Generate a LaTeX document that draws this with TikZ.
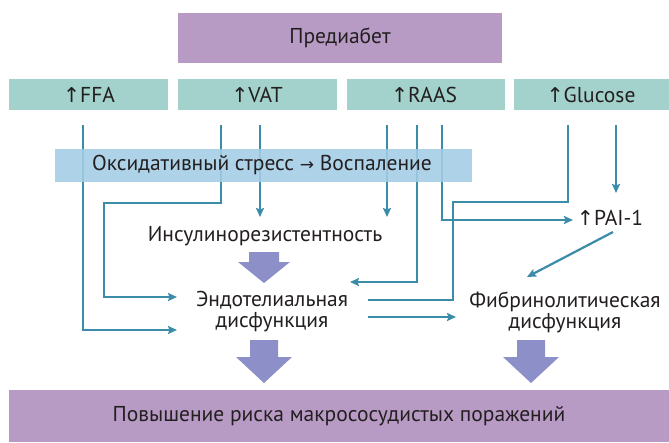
\documentclass[tikz,border=0pt]{standalone}
\usepackage{fontspec}
\setmainfont{PT Sans}
\newfontfamily\arr{DejaVu Sans}
\usetikzlibrary{arrows.meta}
\definecolor{purp}{HTML}{B89BC4}
\definecolor{teal}{HTML}{A2D2CB}
\definecolor{lblue}{HTML}{A3CDE5}
\definecolor{lin}{HTML}{3A8CA8}
\definecolor{blk}{HTML}{8C8FC8}
\definecolor{txt}{HTML}{231F20}
\newcommand{\uparr}{{\arr\fontsize{20.5}{20}\selectfont↑}}
\begin{document}
\begin{tikzpicture}[x=1pt,y=-1pt,
  every node/.style={text=txt,font=\fontsize{21.5}{21}\selectfont,inner sep=0pt},
  conn/.style={draw=lin,line width=2.2pt,-{Stealth[length=9pt,width=8pt,inset=1.5pt]}},
  plain/.style={draw=lin,line width=2.2pt},
  blockarrow/.style={fill=blk,draw=none}]
\useasboundingbox[fill=white] (0,0) rectangle (669,442);
% boxes
\fill[purp] (178,13) rectangle (502,63);
\node (pre) at (340,38) {Предиабет};
\fill[teal] (9,79) rectangle (168,110);
\fill[teal] (178,79) rectangle (337,110);
\fill[teal] (347,79) rectangle (505,110);
\fill[teal] (514,79) rectangle (669,110);
\node (ffa) at (89,95) {\uparr FFA};
\node (vat) at (257,95) {\uparr VAT};
\node (raas) at (424,95) {\uparr RAAS};
\node (glu) at (591,95) {\uparr Glucose};
% coordinates
\coordinate (f1) at (83,125);
\coordinate (v1) at (221,125);
\coordinate (v2) at (260,125);
\coordinate (r1) at (387,125);
\coordinate (r2) at (417,125);
\coordinate (r3) at (442,125);
\coordinate (g1) at (568,125);
\coordinate (g2) at (616,125);
\coordinate (eA) at (177,297);
\coordinate (eB) at (177,330);
\coordinate (eR) at (350,282);
\coordinate (eG) at (368,300);
\coordinate (eO) at (368,317);
\coordinate (fI) at (456,317);
\coordinate (iL) at (260,217);
\coordinate (iR) at (387,217);
\coordinate (pL) at (573,220);
\coordinate (pT) at (616,193);
\coordinate (pS) at (613,232);
\coordinate (fT) at (527,277);
% connectors
\draw[conn] (f1) |- (eB);
\draw[conn] (v1) -- (221,203) -| (104,297) -- (eA);
\draw[conn] (v2) -- (iL);
\draw[conn] (r1) -- (iR);
\draw[conn] (r2) |- (eR);
\draw[conn] (r3) |- (pL);
\draw[plain] (g1) -- (568,202) -| (453,300) -- (eG);
\draw[conn] (g2) -- (pT);
\draw[conn] (pS) -- (fT);
\draw[conn] (eO) -- (fI);
% oxidative stress box
\fill[lblue,fill opacity=0.88] (55,149) rectangle (472,182);
\node (ox) at (262,165) {Оксидативный стресс {\arr\fontsize{17}{19}\selectfont→} Воспаление};
% texts
\node (ins) at (265,236) {Инсулинорезистентность};
\node[align=center] (endo) at (272,312) {Эндотелиальная\\дисфункция};
\node[align=center] (fib) at (565,312) {Фибринолитическая\\дисфункция};
\node (pai) at (610,218) {\uparr PAI-1};
% block arrows
\fill[blockarrow] (249,252) -- (279,252) -- (279,262) -- (290,262) -- (264,283) -- (238,262) -- (249,262) -- cycle;
\fill[blockarrow] (250,340) -- (278,340) -- (278,357) -- (292,357) -- (264,383) -- (236,357) -- (250,357) -- cycle;
\fill[blockarrow] (517,340) -- (545,340) -- (545,357) -- (559,357) -- (531,383) -- (503,357) -- (517,357) -- cycle;
% bottom box
\fill[purp] (9,390) rectangle (669,442);
\node (risk) at (339,416) {Повышение риска макрососудистых поражений};
\end{tikzpicture}
\end{document}
